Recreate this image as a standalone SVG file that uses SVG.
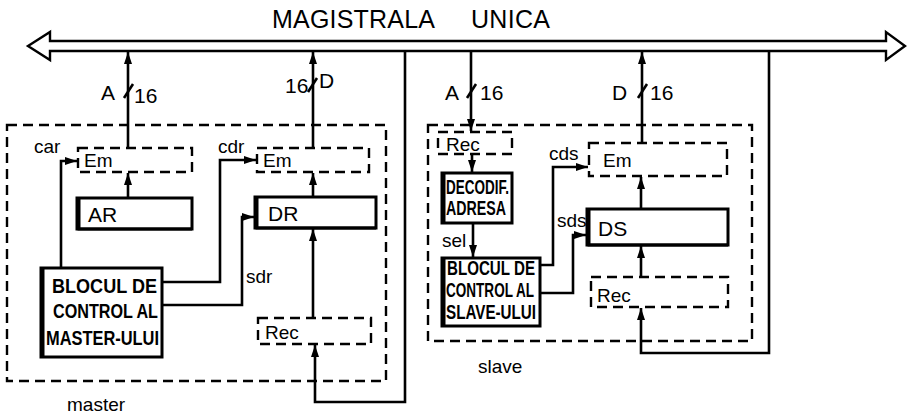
<svg xmlns="http://www.w3.org/2000/svg" width="907" height="414" viewBox="0 0 907 414">
<style>
  .ln{fill:none;stroke:#000;stroke-width:2.6;stroke-linejoin:miter}
  .ar{marker-end:url(#ah)}
  .dash{fill:none;stroke:#000;stroke-width:2.4;stroke-dasharray:10 6}
  .box{fill:#fff;stroke:#000;stroke-width:3}
  .sh{fill:none;stroke:#000;stroke-width:3}
  text{font-family:"Liberation Sans",Arial,sans-serif;fill:#000}
  .lb{font-size:19px}
  .bt{font-size:21px;font-weight:bold}
  .reg{font-size:21px}
  .title{font-size:25px}
</style>
<defs>
  <marker id="ah" viewBox="0 0 12 8" refX="12" refY="4" markerWidth="12" markerHeight="8" markerUnits="userSpaceOnUse" orient="auto">
    <path d="M0,0 L12,4 L0,8 z" fill="#000"/>
  </marker>
</defs>
<rect width="907" height="414" fill="#fff"/>

<g id="bus">
  <polygon points="28,46 50,32 50,41 886,41 886,32 905,46 886,60 886,51 50,51 50,60" fill="#fff" stroke="#000" stroke-width="2.4" stroke-linejoin="miter"/>
  <text class="title" x="272" y="28" textLength="163" lengthAdjust="spacing">MAGISTRALA</text>
  <text class="title" x="471" y="28" textLength="79" lengthAdjust="spacing">UNICA</text>
</g>

<g id="master">
  <rect class="dash" x="7" y="125" width="379" height="256"/>
  <text class="lb" x="67" y="411">master</text>
</g>
<g id="slave">
  <rect class="dash" x="428" y="125" width="324" height="216"/>
  <text class="lb" x="478" y="373">slave</text>
</g>

<g id="master-em-a">
  <rect class="dash" x="78" y="148" width="114" height="24"/>
  <text class="lb" x="84" y="167">Em</text>
</g>
<g id="master-ar">
  <rect class="box" x="77" y="198" width="115" height="31"/>
  <path class="sh" d="M79,199 V229 H192"/>
  <text class="reg" x="88" y="222">AR</text>
</g>
<g id="master-em-d">
  <rect class="dash" x="257" y="148" width="112" height="24"/>
  <text class="lb" x="263" y="167">Em</text>
</g>
<g id="master-dr">
  <rect class="box" x="255" y="197" width="121" height="31"/>
  <path class="sh" d="M257,198 V228 H376"/>
  <text class="reg" x="268" y="221">DR</text>
</g>
<g id="master-rec">
  <rect class="dash" x="258" y="318" width="113" height="26"/>
  <text class="lb" x="265" y="339">Rec</text>
</g>
<g id="master-control">
  <rect class="box" x="41" y="268" width="121" height="89" stroke-width="3.5"/>
  <path class="sh" d="M43,269 V356"/>
  <text class="bt" x="52" y="293" textLength="105" lengthAdjust="spacingAndGlyphs">BLOCUL DE</text>
  <text class="bt" x="53" y="318" textLength="105" lengthAdjust="spacingAndGlyphs">CONTROL AL</text>
  <text class="bt" x="46" y="345" textLength="113" lengthAdjust="spacingAndGlyphs">MASTER-ULUI</text>
</g>

<g id="slave-rec-a">
  <rect class="dash" x="438" y="132" width="74" height="22"/>
  <text class="lb" x="446" y="151">Rec</text>
</g>
<g id="slave-decodif">
  <rect class="box" x="442" y="173" width="70" height="50"/>
  <path class="sh" d="M444,174 V222"/>
  <text class="bt" x="446" y="194" font-size="15" textLength="63" lengthAdjust="spacingAndGlyphs">DECODIF.</text>
  <text class="bt" x="446" y="215" font-size="15" textLength="60" lengthAdjust="spacingAndGlyphs">ADRESA</text>
</g>
<g id="slave-control">
  <rect class="box" x="442" y="258" width="98" height="68"/>
  <path class="sh" d="M444,259 V325"/>
  <text class="bt" x="447" y="275" font-size="18" textLength="88" lengthAdjust="spacingAndGlyphs">BLOCUL DE</text>
  <text class="bt" x="446" y="297" font-size="18" textLength="88" lengthAdjust="spacingAndGlyphs">CONTROL AL</text>
  <text class="bt" x="446" y="319" font-size="18" textLength="90" lengthAdjust="spacingAndGlyphs">SLAVE-ULUI</text>
</g>
<g id="slave-em">
  <rect class="dash" x="589" y="143" width="138" height="33"/>
  <text class="lb" x="603" y="167">Em</text>
</g>
<g id="slave-ds">
  <rect class="box" x="587" y="209" width="141" height="36"/>
  <path class="sh" d="M589,210 V245 H728"/>
  <text class="reg" x="598" y="236">DS</text>
</g>
<g id="slave-rec">
  <rect class="dash" x="591" y="277" width="137" height="30"/>
  <text class="lb" x="597" y="302">Rec</text>
</g>

<g id="connectors">
  <path class="ln ar" d="M128,148 V52"/>
  <path class="ln ar" d="M313,148 V52"/>
  <path class="ln ar" d="M405,51 V402 H315 V345"/>
  <path class="ln ar" d="M128,198 V173"/>
  <path class="ln ar" d="M313,197 V173"/>
  <path class="ln ar" d="M313,318 V229"/>
  <path class="ln ar" d="M61,268 V161 H77"/>
  <path class="ln ar" d="M162,282 H220 V160 H256"/>
  <path class="ln ar" d="M162,305 H242 V217 H254"/>
  <path class="ln ar" d="M471,51 V131"/>
  <path class="ln ar" d="M472,154 V172"/>
  <path class="ln ar" d="M473,223 V257"/>
  <path class="ln ar" d="M540,265 H553 V167 H588"/>
  <path class="ln ar" d="M540,293 H573 V235 H586"/>
  <path class="ln ar" d="M642,143 V52"/>
  <path class="ln ar" d="M641,209 V177"/>
  <path class="ln ar" d="M641,277 V246"/>
  <path class="ln ar" d="M769,51 V353 H641 V308"/>
  <path class="ln" d="M124,98 L133,84"/>
  <path class="ln" d="M308,92 L317,78"/>
  <path class="ln" d="M467,98 L476,84"/>
  <path class="ln" d="M638,98 L647,84"/>
  <text class="reg" x="101" y="100">A</text>
  <text class="reg" x="134" y="103">16</text>
  <text class="reg" x="285" y="93">16</text>
  <text class="reg" x="319" y="88">D</text>
  <text class="reg" x="445" y="100">A</text>
  <text class="reg" x="480" y="100">16</text>
  <text class="reg" x="612" y="100">D</text>
  <text class="reg" x="650" y="100">16</text>
  <text class="lb" x="34" y="153">car</text>
  <text class="lb" x="218" y="153">cdr</text>
  <text class="lb" x="246" y="283">sdr</text>
  <text class="lb" x="442" y="247">sel</text>
  <text class="lb" x="549" y="160">cds</text>
  <text class="lb" x="557" y="227">sds</text>
</g>
</svg>
